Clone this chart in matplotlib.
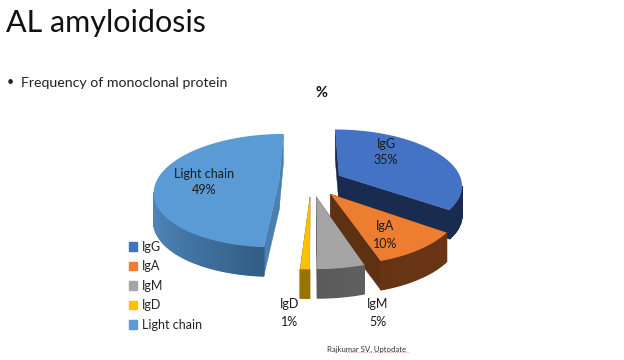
import numpy as np
import matplotlib
matplotlib.use('Agg')
import matplotlib.pyplot as plt
from matplotlib.patches import Patch

# Data
labels = ['IgG', 'IgA', 'IgM', 'IgD', 'Light chain']
values = [35, 10, 5, 1, 49]
top_colors = ['#4472c4', '#ed7d31', '#a5a5a5', '#ffc000', '#5b9bd5']
wall_dark = ['#1a2b50', '#5f3113', '#474747', '#997300', '#2f5a80']
wall_light = ['#1a2b50', '#6a3515', '#6c6c6c', '#997300', '#4f86ba']
cut_colors = ['#1a2b50', '#5f3113', '#474747', '#997300', '#4a7fb0']

plt.rcParams['font.family'] = ['Lato', 'DejaVu Sans']

# Pie geometry in pixels (axes run in image coordinates)
cx, cy = 311, 182
R = 123
explode = 32
squash = 0.45
persp = 0.16
depth = 29


def project(u, v, z=0):
    scale = 1 / (1 + persp * v / R)
    return cx + u * scale, cy - squash * v * scale + z


def mix(c1, c2, t):
    a = np.array(matplotlib.colors.to_rgb(c1))
    b = np.array(matplotlib.colors.to_rgb(c2))
    return tuple(a + (b - a) * t)


def area(pts):
    x = [p[0] for p in pts]
    y = [p[1] for p in pts]
    return 0.5 * (np.dot(x, np.roll(y, 1)) - np.dot(y, np.roll(x, 1)))


fig = plt.figure(figsize=(6.24, 3.6), dpi=100)
ax = fig.add_axes([0, 0, 1, 1])
ax.set_xlim(0, 624)
ax.set_ylim(360, 0)
ax.axis('off')

# Slice angles, clockwise from 12 o'clock
fractions = np.array(values) / sum(values)
ends = np.cumsum(fractions) * 2 * np.pi
starts = ends - fractions * 2 * np.pi

# back slices first so the front ones overlap them
for i in [0, 4, 1, 3, 2]:
    a0, a1 = starts[i], ends[i]
    mid = (a0 + a1) / 2
    ou, ov = explode * np.sin(mid), explode * np.cos(mid)
    angs = np.linspace(a0, a1, max(int((a1 - a0) * 40), 4))
    rim = [(ou + R * np.sin(a), ov + R * np.cos(a)) for a in angs]

    # the two cut faces
    for e in [rim[0], rim[-1]]:
        quad = [project(ou, ov), project(*e), project(*e, depth), project(ou, ov, depth)]
        ax.fill(*zip(*quad), color=cut_colors[i], lw=0.3, zorder=i + 1)

    # outer wall in strips for the gradient
    for k in range(len(rim) - 1):
        quad = [project(*rim[k]), project(*rim[k + 1]),
                project(*rim[k + 1], depth), project(*rim[k], depth)]
        if area(quad) < 0:
            continue
        t = np.clip((np.sin(angs[k]) + 1) / 2, 0, 1) if i != 4 else np.clip(-np.sin(angs[k]), 0, 1)
        ax.fill(*zip(*quad), color=mix(wall_dark[i], wall_light[i], t), lw=0.9, zorder=i + 1)

    # top face
    top = [project(ou, ov)] + [project(*p) for p in rim]
    ax.fill(*zip(*top), color=top_colors[i], lw=0, zorder=i + 1)

# Slice labels
ax.text(386, 152, 'IgG\n35%', ha='center', va='center', fontsize=9, linespacing=1.5, color='#1a1a1a', zorder=10)
ax.text(385, 235, 'IgA\n10%', ha='center', va='center', fontsize=9, linespacing=1.5, color='#1a1a1a', zorder=10)
ax.text(378, 313, 'IgM\n5%', ha='center', va='center', fontsize=9, linespacing=1.5, color='#1a1a1a', zorder=10)
ax.text(290, 313, 'IgD\n1%', ha='center', va='center', fontsize=9, linespacing=1.5, color='#1a1a1a', zorder=10)
ax.text(204, 182, 'Light chain\n49%', ha='center', va='center', fontsize=9, linespacing=1.5, color='#1a1a1a', zorder=10)

# Slide text
ax.text(6, 23, 'AL amyloidosis', ha='left', va='center', fontsize=22, color='#111111')
ax.text(7, 82, '•', ha='left', va='center', fontsize=9, color='#222222')
ax.text(21, 83, 'Frequency of monoclonal protein', ha='left', va='center', fontsize=10.2, color='#222222')
ax.text(321, 93, '%', ha='center', va='center', fontsize=10.5, fontweight='bold', color='#111111')
ax.text(367, 349, 'Rajkumar SV, Uptodate', ha='center', va='center', fontsize=5.6, color='#333333')
ax.plot([345, 408], [352, 352], color='#e05050', lw=0.5, ls=':')

# Legend
handles = [Patch(color=c, label=l) for c, l in zip(top_colors, labels)]
leg = ax.legend(handles=handles, loc='upper left', bbox_to_anchor=(120 / 624, 1 - 232 / 360), frameon=False,
                fontsize=9, handlelength=0.65, handleheight=0.65, handletextpad=0.42, labelspacing=0.6,
                borderpad=0.2, labelcolor='#222222')
leg.set_zorder(20)

plt.savefig('out.png', dpi=100)
